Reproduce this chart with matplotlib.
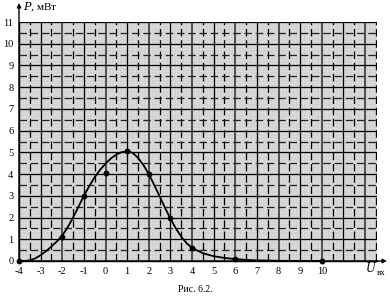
import numpy as np
import matplotlib
matplotlib.use("Agg")
import matplotlib.pyplot as plt

# measured points
pts_x = [-4, -2, -1, 0, 1, 2, 3, 4, 6, 10]
pts_y = [0.0, 1.1, 3.0, 4.05, 5.05, 4.0, 2.0, 0.6, 0.1, 0.0]

# smooth curve
curve_x = [-4, -3.75, -3.5, -3.25, -3, -2.75, -2.5, -2.25, -2, -1.75, -1.5, -1.25, -1,
           -0.75, -0.5, -0.25, 0, 0.25, 0.5, 0.75, 1, 1.25, 1.5, 1.75, 2, 2.25, 2.5,
           2.75, 3, 3.25, 3.5, 3.75, 4, 4.5, 5, 5.5, 6, 6.5, 7, 8, 9, 10]
curve_y = [0.0, 0.0, 0.03, 0.12, 0.27, 0.45, 0.67, 0.9, 1.17, 1.55, 2.0, 2.5, 3.0,
           3.45, 3.86, 4.2, 4.48, 4.72, 4.9, 5.01, 5.05, 4.98, 4.75, 4.42, 4.0, 3.5, 2.98,
           2.45, 1.95, 1.5, 1.12, 0.82, 0.6, 0.36, 0.22, 0.14, 0.09, 0.05, 0.03, 0.01, 0.0, 0.0]

x_ticks = list(range(-4, 11))
y_ticks = list(range(0, 12))

plt.rcParams['font.family'] = ['Liberation Serif', 'DejaVu Serif']

fig = plt.figure(figsize=(3.9, 2.97), dpi=100)
ax = fig.add_axes([19/390, 36/297, (377-19)/390, (261-22)/297])
ax.set_xlim(-4, 12.55)
ax.set_ylim(0, 11)
ax.set_facecolor('#cfcfcf')

# fine paper texture
for v in np.arange(-4, 12.6, 0.125):
    ax.axvline(v, color='#dedede', lw=0.5, zorder=0)
for v in np.arange(0, 11.01, 0.125):
    ax.axhline(v, color='#dedede', lw=0.5, zorder=0)

# grid
for v in range(-3, 13):
    ax.axvline(v, color='black' if v % 2 else '#505050', lw=0.9 if v % 2 else 1.4, zorder=1)
for v in np.arange(-3.5, 12.6, 1):
    ax.axvline(v, color='black', lw=0.9, ls=(0, (6, 3)), zorder=1)
for v in range(1, 12):
    ax.axhline(v, color='black', lw=0.9, zorder=1)
for v in np.arange(0.5, 11, 1):
    ax.axhline(v, color='#222222', lw=0.9, ls=(0, (6, 3)), zorder=1)

ax.plot(curve_x, curve_y, color='black', lw=1.3, zorder=3,
        solid_capstyle='round', solid_joinstyle='round')
ax.plot(pts_x, pts_y, 'o', color='black', ms=3.2, zorder=4, clip_on=False)

for s in ['top', 'right']:
    ax.spines[s].set_visible(False)
ax.spines['left'].set_linewidth(1.0)
ax.spines['bottom'].set_linewidth(1.0)

ax.set_xticks(x_ticks)
ax.set_xticklabels([str(t) for t in x_ticks], fontsize=7.5)
ax.set_yticks(y_ticks)
ax.set_yticklabels([str(t) for t in y_ticks], fontsize=7.5)
ax.tick_params(length=0, pad=4)

# axis arrows
ax.annotate('', xy=(19/390, 1 - 3/297), xytext=(19/390, 36/297), xycoords='figure fraction',
            arrowprops=dict(arrowstyle='-|>', color='black', lw=1.0, mutation_scale=6,
                            shrinkA=0, shrinkB=0))
ax.annotate('', xy=(387/390, 36/297), xytext=(19/390, 36/297), xycoords='figure fraction',
            arrowprops=dict(arrowstyle='-|>', color='black', lw=1.0, mutation_scale=6,
                            shrinkA=0, shrinkB=0))

fig.text(23/390, 1 - 7/297, r'$P$, мВт', fontsize=8, va='center', ha='left',
         math_fontfamily='dejavuserif')
fig.text(365/390, 1 - 268/297, r'$U$', fontsize=8.5, va='center', ha='left',
         math_fontfamily='dejavuserif')
fig.text(377/390, 1 - 273/297, 'вх', fontsize=6.5, va='center', ha='left')
fig.text(195/390, 1 - 289/297, 'Рис. 6.2.', fontsize=7, va='center', ha='center')

fig.savefig('out.png', dpi=100)
